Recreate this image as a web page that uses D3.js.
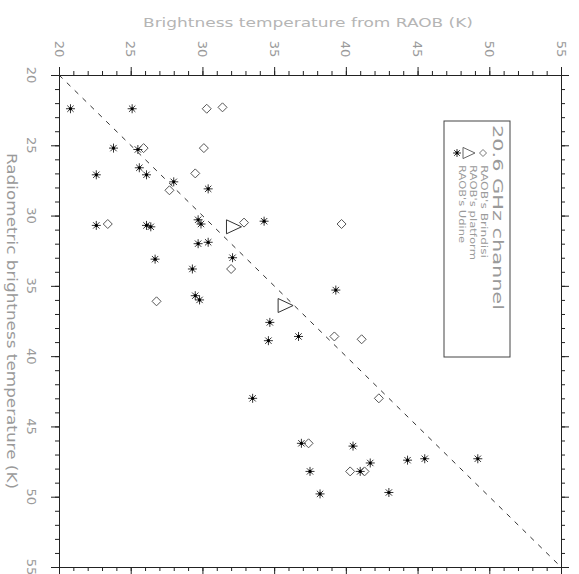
<!DOCTYPE html>
<html><head><meta charset="utf-8">
<script src="https://cdn.jsdelivr.net/npm/d3@7"></script>
<style>
html,body{margin:0;padding:0;background:#fff;}
svg{display:block;font-family:"DejaVu Sans",sans-serif;}
</style></head>
<body><svg id="c" width="579" height="574"></svg>
<script>
// ---- data (x = RAOB brightness temperature, y = radiometric brightness temperature), K
const brindisiRaob = [30.3, 31.4, 25.9, 30.1, 29.5, 27.7, 23.4, 32.9, 39.7, 32.0, 26.8, 39.2, 41.1, 42.3, 37.4, 40.3, 41.3];
const brindisiRad  = [22.4, 22.3, 25.2, 25.2, 27.0, 28.2, 30.6, 30.5, 30.6, 33.8, 36.1, 38.6, 38.8, 43.0, 46.2, 48.2, 48.2];
const platformRaob = [32.2, 35.8];
const platformRad  = [30.8, 36.4];
const udineRaob = [20.8, 25.1, 23.8, 25.5, 22.6, 25.6, 26.1, 28.0, 30.4, 22.6, 26.1, 26.4, 29.7, 29.9, 34.3, 29.7, 30.4, 26.7, 32.1, 29.3, 29.5, 29.8, 39.3, 34.7, 34.6, 36.7, 33.5, 36.9, 40.5, 41.7, 37.5, 41.0, 44.3, 45.5, 49.2, 38.2, 43.0];
const udineRad  = [22.4, 22.4, 25.2, 25.3, 27.1, 26.6, 27.1, 27.6, 28.1, 30.7, 30.7, 30.8, 30.3, 30.6, 30.4, 32.0, 31.9, 33.1, 33.0, 33.8, 35.7, 36.0, 35.3, 37.6, 38.9, 38.6, 43.0, 46.2, 46.4, 47.6, 48.2, 48.2, 47.4, 47.3, 47.3, 49.8, 49.7];
const majorTicks = [20, 25, 30, 35, 40, 45, 50, 55];
const minorTicks = d3.range(20, 56, 1);
const xTitle = "Brightness temperature from RAOB (K)";
const yTitle = "Radiometric brightness temperature (K)";
const legendTitle = "20.6 GHz channel";
const legendLabels = ["RAOB's Brindisi", "RAOB's platform", "RAOB's Udine"];

// ---- layout
const svg = d3.select("#c");
const x = d3.scaleLinear().domain([20, 55]).range([59, 561]);
const y = d3.scaleLinear().domain([20, 55]).range([75, 567]);
const axisCol = "#222", textCol = "#9a9a9a";

function styleAxis(g){
  g.select(".domain").attr("stroke", axisCol);
  g.selectAll(".tick line").attr("stroke", axisCol);
  g.selectAll("text").remove();
}
[["top", d3.axisTop(x), `translate(0,${y(20)})`],
 ["bottom", d3.axisBottom(x), `translate(0,${y(55)})`],
 ["left", d3.axisLeft(y), `translate(${x(20)},0)`],
 ["right", d3.axisRight(y), `translate(${x(55)},0)`]].forEach(([n, ax, tr]) => {
  svg.append("g").attr("transform", tr)
    .call(ax.tickValues(minorTicks).tickSize(4).tickFormat(""))
    .call(styleAxis);
  svg.append("g").attr("transform", tr)
    .call(ax.tickValues(majorTicks).tickSize(8).tickFormat(""))
    .call(styleAxis);
});

// tick labels (rotated)
svg.append("g").selectAll("text").data(majorTicks).join("text")
  .attr("transform", d => `translate(${x(d)},49) rotate(90)`)
  .attr("text-anchor", "middle").attr("dominant-baseline", "central")
  .attr("font-size", 13).attr("fill", textCol).text(d => d);
svg.append("g").selectAll("text").data(majorTicks).join("text")
  .attr("transform", d => `translate(31,${y(d)}) rotate(90)`)
  .attr("text-anchor", "middle").attr("dominant-baseline", "central")
  .attr("font-size", 13).attr("fill", textCol).text(d => d);

// axis titles
svg.append("text").attr("x", 308).attr("y", 22)
  .attr("text-anchor", "middle").attr("dominant-baseline", "central")
  .attr("font-size", 13).attr("fill", "#b5b5b5")
  .attr("textLength", 330).attr("lengthAdjust", "spacingAndGlyphs").text(xTitle);
svg.append("text").attr("transform", `translate(12,${(y(20)+y(55))/2}) rotate(90)`)
  .attr("text-anchor", "middle").attr("dominant-baseline", "central")
  .attr("font-size", 14).attr("fill", textCol)
  .attr("textLength", 336).attr("lengthAdjust", "spacingAndGlyphs").text(yTitle);

// 1:1 line
svg.append("line")
  .attr("x1", x(20)).attr("y1", y(20)).attr("x2", x(55)).attr("y2", y(55))
  .attr("stroke", "#333").attr("stroke-width", 1).attr("stroke-dasharray", "5,6");

// symbol paths
const diamond = r => `M0,${-r}L${r},0L0,${r}L${-r},0Z`;
const triangle = s => `M${-s},${-s*0.93}L${-s},${s*0.93}L${s},0Z`;
const asterisk = r => {
  const a = r * Math.SQRT1_2;
  return `M${-r},0L${r},0M0,${-r}L0,${r}M${-a},${-a}L${a},${a}M${-a},${a}L${a},${-a}`;
};
const pts = (xs, ys) => xs.map((v, i) => [v, ys[i]]);

svg.append("g").selectAll("path").data(pts(brindisiRaob, brindisiRad)).join("path")
  .attr("transform", d => `translate(${x(d[0])},${y(d[1])})`)
  .attr("d", diamond(4.5)).attr("fill", "none").attr("stroke", "#555").attr("stroke-width", 1);
svg.append("g").selectAll("path").data(pts(platformRaob, platformRad)).join("path")
  .attr("transform", d => `translate(${x(d[0])},${y(d[1])})`)
  .attr("d", triangle(7.5)).attr("fill", "none").attr("stroke", "#333").attr("stroke-width", 1);
const ug = svg.append("g").selectAll("g").data(pts(udineRaob, udineRad)).join("g")
  .attr("transform", d => `translate(${x(d[0])},${y(d[1])})`);
ug.append("path").attr("d", asterisk(4.5)).attr("stroke", "#333").attr("stroke-width", 1).attr("fill", "none");
ug.append("circle").attr("r", 1.6).attr("fill", "#000");

// legend
const lg = svg.append("g");
lg.append("rect").attr("x", 444).attr("y", 121).attr("width", 66).attr("height", 236)
  .attr("fill", "none").attr("stroke", "#444").attr("stroke-width", 1);
lg.append("text").attr("transform", "translate(498,125) rotate(90)")
  .attr("dominant-baseline", "central").attr("font-size", 14).attr("fill", textCol)
  .attr("textLength", 185).attr("lengthAdjust", "spacingAndGlyphs").text(legendTitle);
const entryX = [484, 473, 462];
const entryLen = [93, 95, 78];
legendLabels.forEach((t, i) => {
  lg.append("text").attr("transform", `translate(${entryX[i]},165) rotate(90)`)
    .attr("dominant-baseline", "central").attr("font-size", 9).attr("fill", textCol)
    .attr("textLength", entryLen[i]).attr("lengthAdjust", "spacingAndGlyphs").text(t);
});
lg.append("path").attr("transform", "translate(483,153)").attr("d", diamond(3.5))
  .attr("fill", "none").attr("stroke", "#777");
lg.append("path").attr("transform", "translate(469,153)").attr("d", triangle(6))
  .attr("fill", "none").attr("stroke", "#666");
const la = lg.append("g").attr("transform", "translate(457,153)");
la.append("path").attr("d", asterisk(4)).attr("stroke", "#333").attr("fill", "none");
la.append("circle").attr("r", 1.4).attr("fill", "#000");
</script></body></html>
